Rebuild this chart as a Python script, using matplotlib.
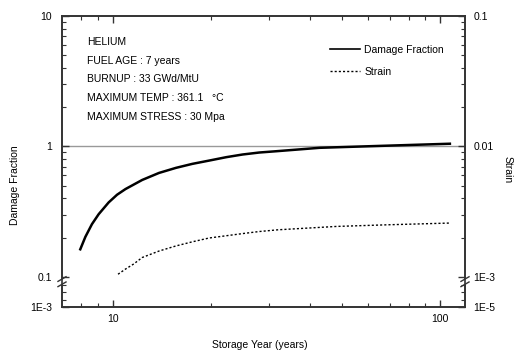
import matplotlib
matplotlib.use('Agg')
import matplotlib.pyplot as plt
import numpy as np

plt.rcParams['font.family'] = ['Liberation Sans Narrow', 'Liberation Sans', 'DejaVu Sans']

# damage fraction vs storage year (left axis)
damage_years = [7.96, 8.25, 8.64, 9.06, 9.72, 10.31, 10.94, 12.3, 13.84, 15.6, 17.5,
                19.7, 22.2, 24.9, 28.0, 31.6, 42.8, 61.0, 107.0]
damage = [0.163, 0.203, 0.254, 0.303, 0.373, 0.427, 0.472, 0.554, 0.627, 0.686, 0.736,
          0.780, 0.828, 0.868, 0.899, 0.92, 0.977, 1.005, 1.05]

# strain vs storage year (right axis)
strain_years = [10.38, 10.94, 11.6, 12.3, 13.84, 15.6, 17.5, 19.7, 22.2, 24.9, 28.0,
                32.0, 48.2, 68.5, 107.0]
strain = [1.05e-3, 1.15e-3, 1.26e-3, 1.41e-3, 1.58e-3, 1.73e-3, 1.86e-3, 1.99e-3,
          2.07e-3, 2.15e-3, 2.23e-3, 2.30e-3, 2.44e-3, 2.51e-3, 2.59e-3]

info_lines = ['HELIUM', 'FUEL AGE : 7 years', 'BURNUP : 33 GWd/MtU',
              'MAXIMUM TEMP : 361.1   \u00b0C', 'MAXIMUM STRESS : 30 Mpa']

left_ticks = [1e-3, 0.1, 1, 10]
left_labels = ['1E-3', '0.1', '1', '10']
right_ticks = [1e-5, 1e-3, 0.01, 0.1]
right_labels = ['1E-5', '1E-3', '0.01', '0.1']

K = 0.115  # compression below the axis break


def broken_log(thr):
    lt = np.log10(thr)

    def fwd(y):
        ly = np.log10(np.clip(np.asarray(y, dtype=float), 1e-300, None))
        return np.where(ly >= lt, ly, lt + (ly - lt) * K)

    def inv(z):
        z = np.asarray(z, dtype=float)
        return np.where(z >= lt, 10.0 ** z, 10.0 ** (lt + (z - lt) / K))
    return fwd, inv


fig = plt.figure(figsize=(5.14, 3.54), dpi=100)
ax = fig.add_axes([62 / 514, 1 - 307 / 354, 403 / 514, 291 / 354])
ax2 = ax.twinx()

ax.set_xscale('log')
ax.set_yscale('function', functions=broken_log(0.1))
ax2.set_yscale('function', functions=broken_log(1e-3))

ax.axhline(1, color='0.6', lw=1.0, zorder=1)
l1, = ax.plot(damage_years, damage, color='black', lw=1.8, label='Damage Fraction')
l2, = ax2.plot(strain_years, strain, color='black', lw=1.0, dashes=(1.5, 1.5), label='Strain')

ax.set_xlim(7, 119)
ax.set_ylim(1e-3, 10)
ax2.set_ylim(1e-5, 0.1)

ax.set_xticks([10, 100])
ax.set_xticklabels(['10', '100'])
ax.set_xticks([8, 9, 20, 30, 40, 50, 60, 70, 80, 90], minor=True)
ax.xaxis.set_minor_formatter(matplotlib.ticker.NullFormatter())

minor_left = [m * d for d in (0.1, 1) for m in range(2, 10)] + [0.003, 0.01, 0.03]
ax.set_yticks(left_ticks)
ax.set_yticklabels(left_labels)
ax.set_yticks(minor_left, minor=True)
ax.yaxis.set_minor_formatter(matplotlib.ticker.NullFormatter())

minor_right = [m * d for d in (1e-3, 0.01) for m in range(2, 10)] + [3e-5, 1e-4, 3e-4]
ax2.set_yticks(right_ticks)
ax2.set_yticklabels(right_labels)
ax2.set_yticks(minor_right, minor=True)
ax2.yaxis.set_minor_formatter(matplotlib.ticker.NullFormatter())

ax.tick_params(axis='both', which='both', direction='in', top=True, right=False,
               labelsize=7.5, color='0.2')
ax.tick_params(which='major', length=5, width=1)
ax.tick_params(which='minor', length=3, width=0.8)
ax.tick_params(axis='y', pad=7)
ax.tick_params(axis='x', pad=5)
ax2.tick_params(axis='y', which='both', direction='in', labelsize=7.5, pad=6, color='0.2')
ax2.tick_params(which='major', length=5, width=1)
ax2.tick_params(which='minor', length=3, width=0.8)

for a in (ax, ax2):
    for s in a.spines.values():
        s.set_linewidth(1.2)
        s.set_color('0.2')

# break marks on both vertical spines
for xb in (0.0, 1.0):
    ax.add_patch(plt.Rectangle((xb - 0.01, 0.078), 0.02, 0.018, transform=ax.transAxes,
                               facecolor='white', edgecolor='none', clip_on=False, zorder=5))
    for yb in (0.078, 0.096):
        ax.plot([xb - 0.01, xb + 0.01], [yb - 0.008, yb + 0.008], transform=ax.transAxes,
                color='0.2', lw=1.0, clip_on=False, zorder=6)

for i, t in enumerate(info_lines):
    ax.text(0.062, 0.911 - i * 0.0645, t, transform=ax.transAxes, fontsize=7.5,
            va='center', ha='left')

leg = ax.legend(handles=[l1, l2], loc='upper left', bbox_to_anchor=(0.665, 0.90),
                frameon=False, fontsize=7.5, handlelength=2.9, handletextpad=0.4,
                labelspacing=1.1, borderpad=0, borderaxespad=0)
leg.get_lines()[0].set_linewidth(1.2)

fig.text(15 / 514, 1 - 185 / 354, 'Damage Fraction', rotation=90, fontsize=7.5,
         ha='center', va='center')
fig.text(508 / 514, 1 - 170 / 354, 'Strain', rotation=270, fontsize=7.5,
         ha='center', va='center')
fig.text(260 / 514, 1 - 345 / 354, 'Storage Year (years)', fontsize=7.5,
         ha='center', va='center')

fig.savefig('out.png', dpi=100)
